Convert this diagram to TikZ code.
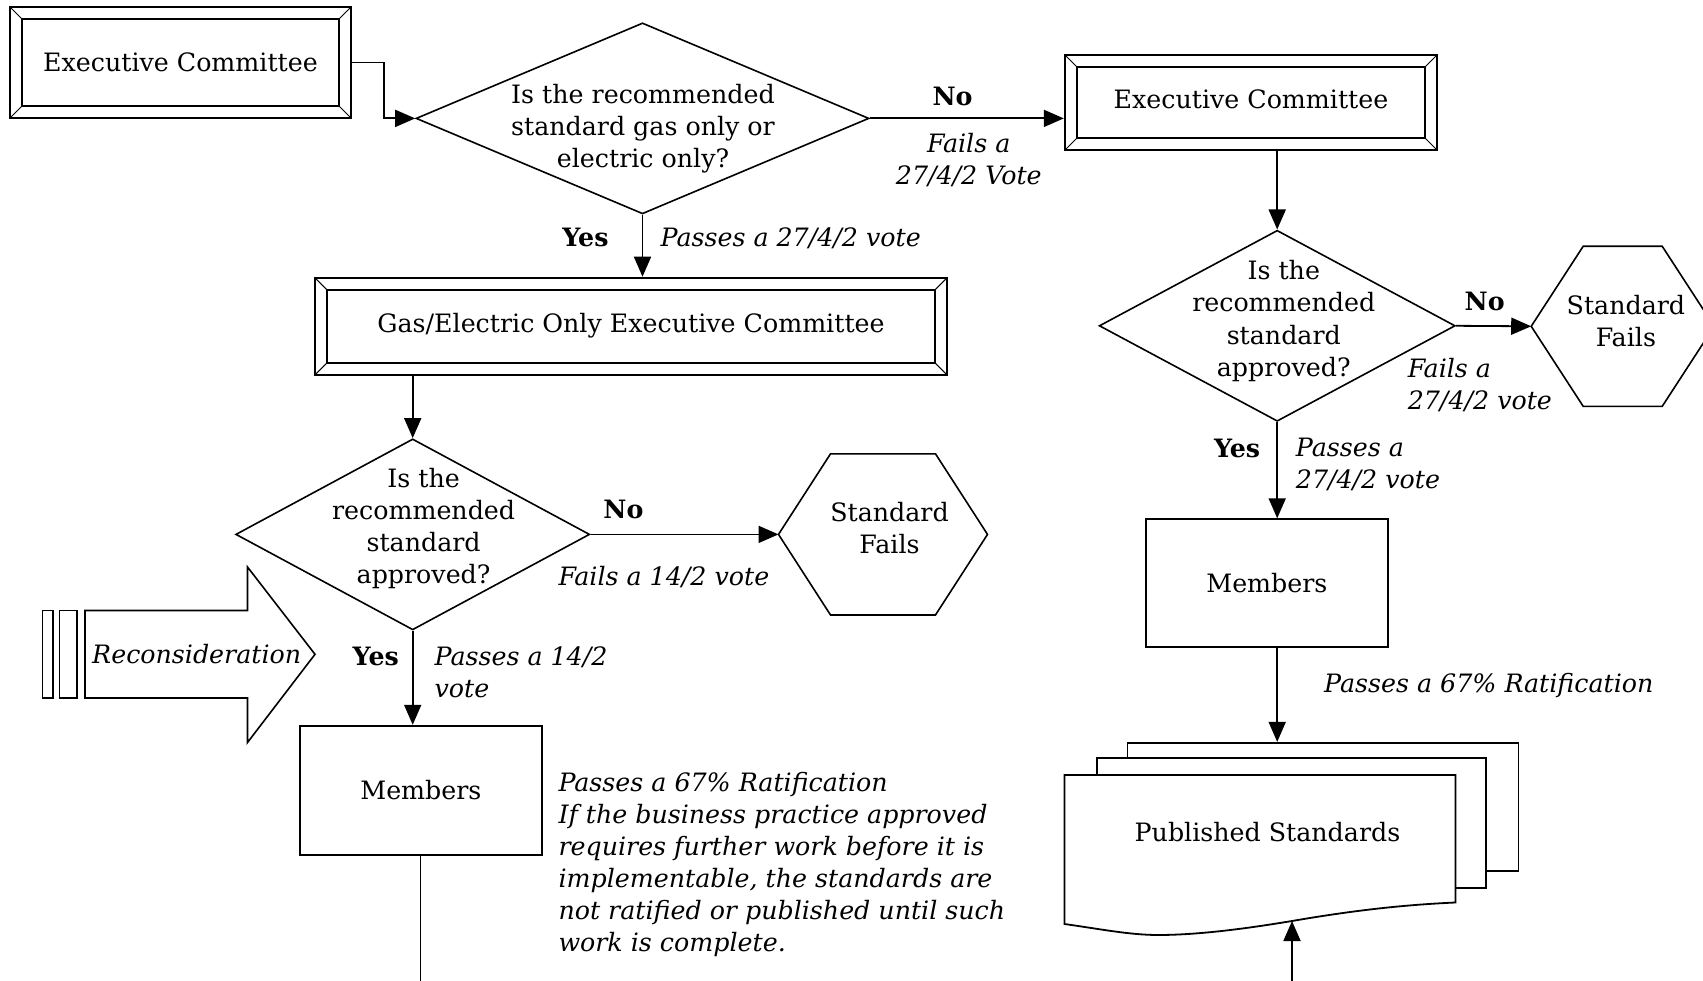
\documentclass[tikz,border=0pt]{standalone}
\usepackage{fontspec}
\setmainfont{DejaVu Serif}
\usetikzlibrary{arrows.meta,shapes.geometric,calc}
\newcommand\hexdraw[2]{\draw[hexline] (#1.west) -- ([xshift=#2]#1.north west) -- ([xshift=-#2]#1.north east) -- (#1.east) -- ([xshift=-#2]#1.south east) -- ([xshift=#2]#1.south west) -- cycle;}
\begin{document}
\begin{tikzpicture}[x=1pt,y=-1pt,
  font=\fontsize{25.3}{32.1}\selectfont,
  bevel/.style={draw, line width=2.4pt, rectangle, inner sep=0pt,
    path picture={
      \draw[line width=1.6pt] ([shift={(12pt,12pt)}]path picture bounding box.south west) rectangle ([shift={(-12pt,-12pt)}]path picture bounding box.north east);
      \draw[line width=1pt] (path picture bounding box.south west) -- ++(12pt,12pt)
        (path picture bounding box.north west) -- ++(12pt,-12pt)
        (path picture bounding box.north east) -- ++(-12pt,-12pt)
        (path picture bounding box.south east) -- ++(-12pt,12pt);}},
  decision/.style={draw, diamond, line width=1.6pt, inner sep=0pt},
  plainbox/.style={draw, rectangle, line width=1.8pt, inner sep=0pt},
  hexbox/.style={rectangle, inner sep=0pt},
  hexline/.style={line width=1.6pt},
  txt/.style={inner sep=0pt, align=center},
  itxt/.style={inner sep=0pt, align=center, font=\fontsize{25.3}{32.1}\selectfont\itshape},
  ltxt/.style={inner sep=0pt, align=left, anchor=west, font=\fontsize{25.3}{32.1}\selectfont\itshape},
  yn/.style={inner sep=0pt, font=\fontsize{25.3}{32.1}\selectfont\bfseries},
  arr/.style={line width=1.8pt, -{Triangle[length=20pt,width=17pt]}},
  conn/.style={line width=1.8pt}
]
\useasboundingbox (0,0) rectangle (1703,981);

% ---- nodes
\node[bevel, minimum width=341pt, minimum height=111pt] (ec1) at (180.5,62.5) {Executive Committee};
\node[decision, minimum width=453pt, minimum height=191pt] (d1) at (642.5,118.4) {};
\node[txt] (d1t) at (643,128.9) {Is the recommended\\standard gas only or\\electric only?};
\node[bevel, minimum width=372pt, minimum height=95pt] (ec2) at (1251,102.5) {\raisebox{6pt}{Executive Committee}};
\node[bevel, minimum width=632pt, minimum height=97pt] (gas) at (631,326.4) {\raisebox{8pt}{Gas/Electric Only Executive Committee}};

\node[decision, minimum width=354pt, minimum height=191pt] (d2) at (412.7,534.4) {};
\node[txt] (d2t) at (423.6,528.4) {Is the\\recommended\\standard\\approved?};
\node[hexbox, minimum width=208.6pt, minimum height=160.7pt] (hex1) at (883,534.4) {};
\node[txt] (hex1t) at (889.5,528.4) {Standard\\Fails};
\node[plainbox, minimum width=242pt, minimum height=129pt] (m1) at (420.9,790.2) {Members};

\node[decision, minimum width=356pt, minimum height=191pt] (d3) at (1277.2,325.8) {};
\node[txt] (d3t) at (1283.8,321) {Is the\\recommended\\standard\\approved?};
\node[hexbox, minimum width=182.6pt, minimum height=159.7pt] (hex2) at (1622.7,326.3) {};
\node[txt] (hex2t) at (1625.9,321) {Standard\\Fails};
\node[plainbox, minimum width=242pt, minimum height=128pt] (m2) at (1266.9,583.2) {Members};

% published standards stack
\node[plainbox, fill=white, minimum width=391pt, minimum height=128pt] (back) at (1322.9,806.8) {};
\node[plainbox, fill=white, minimum width=388.8pt, minimum height=130.3pt] (mid) at (1291.4,823.2) {};
\draw[line width=1.8pt, fill=white] (1064.4,775) -- (1455.4,775) -- (1455.4,902.5)
  .. controls (1400,905) and (1350,911) .. (1292,921)
  .. controls (1250,928) and (1200,935) .. (1158,935)
  .. controls (1130,935) and (1100,929) .. (1064.4,924) -- cycle;
\node[txt] (pub) at (1267.5,832) {Published Standards};
\coordinate (pubin) at (1292,921);
\coordinate (pubsrc) at (1292,981);

% reconsideration arrow
\draw[line width=1.6pt] (42.5,610.5) rectangle (53,698);
\draw[line width=1.6pt] (59.5,610.5) rectangle (77,698);
\draw[line width=1.6pt] (85,610.5) -- (247.5,610.5) -- (247.5,567) -- (315,654.3) -- (247.5,742.5) -- (247.5,698) -- (85,698) -- cycle;
\node[itxt] (recon) at (196.7,654) {Reconsideration};

% hexagons
\hexdraw{hex1}{52pt}
\hexdraw{hex2}{52pt}

% ---- connectors
\draw[arr] (ec1.east) -- ++(32,0) |- (d1.west);
\draw[arr] (d1.east) -- (d1.east -| ec2.west);
\draw[arr] (d1.south) -- (d1.south |- gas.north);
\draw[arr] (d2.north |- gas.south) -- (d2.north);
\draw[arr] (d2.east) -- (hex1.west);
\draw[arr] (d2.south) -- (d2.south |- m1.north);
\coordinate (m1end) at (420.5,981);
\draw[conn] (m1.south -| m1end) -- (m1end);
\draw[arr] (d3.north |- ec2.south) -- (d3.north);
\draw[arr] (d3.east) -- (hex2.west);
\draw[arr] (d3.south) -- (d3.south |- m2.north);
\draw[arr] (d3.south |- m2.south) -- (d3.south |- back.north);
\draw[arr] (pubsrc) -- (pubin);

% ---- labels
\node[yn] (no1) at (952.5,96.7) {No};
\node[itxt] (f1) at (968.8,160.2) {Fails a\\27/4/2 Vote};
\node[yn] (yes1) at (585.4,237.9) {Yes};
\node[ltxt] (p1) at (660.4,237.9) {Passes a 27/4/2 vote};

\node[yn] (no2) at (623.4,509.4) {No};
\node[ltxt] (f2) at (558.3,576.7) {Fails a 14/2 vote};
\node[yn] (yes2) at (375.8,656) {Yes};
\node[ltxt] (p2) at (434.4,672.3) {Passes a 14/2\\vote};
\node[ltxt] (rat1) at (558.3,864.5) {Passes a 67\% Ratification\\If the business practice approved\\requires further work before it is\\implementable, the standards are\\not ratified or published until such\\work is complete.};

\node[yn] (no3) at (1484.7,301.9) {No};
\node[ltxt] (f3) at (1407.6,385) {Fails a\\27/4/2 vote};
\node[yn] (yes3) at (1237.1,448.6) {Yes};
\node[ltxt] (p3) at (1295.7,464.8) {Passes a\\27/4/2 vote};
\node[ltxt] (rat2) at (1324,685.3) {Passes a 67\% Ratification};
\end{tikzpicture}
\end{document}
